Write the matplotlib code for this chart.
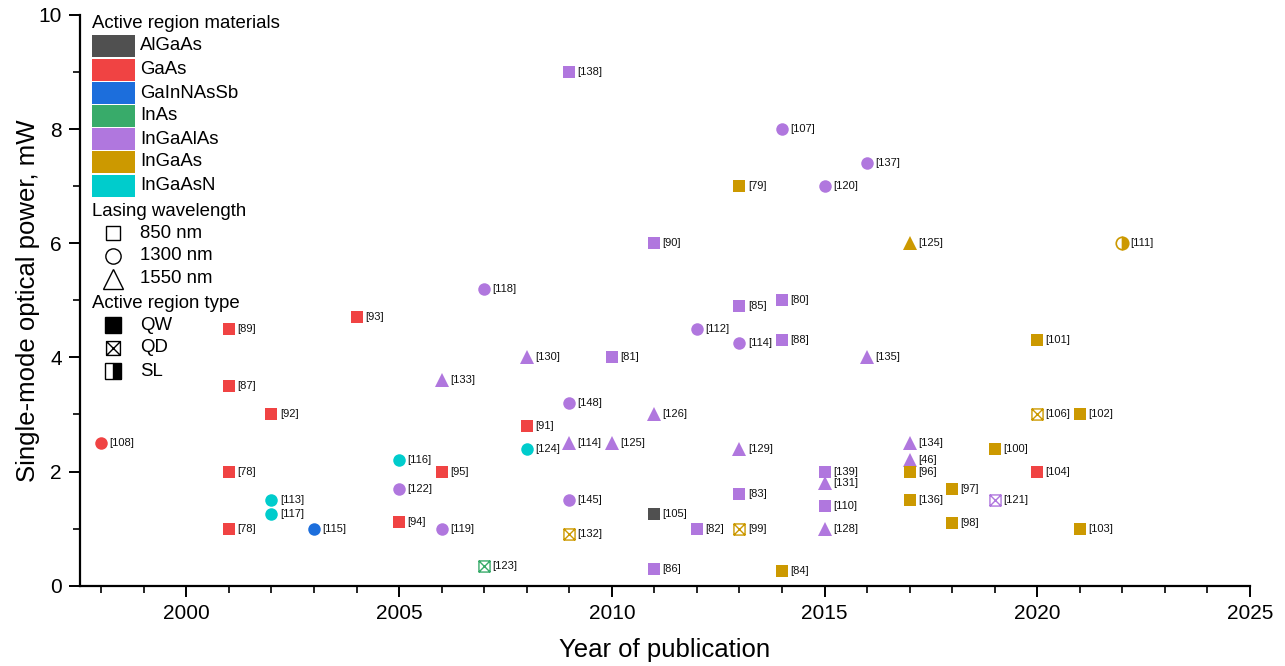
import matplotlib
matplotlib.use("Agg")
import matplotlib.pyplot as plt
from matplotlib.path import Path
from matplotlib.patches import Rectangle
from matplotlib.lines import Line2D
from matplotlib.ticker import MultipleLocator

plt.rcParams['font.family'] = ['Liberation Sans', 'DejaVu Sans']

# -----------------------------------
# Data: one entry per published device
# -----------------------------------

years = [1998, 2001, 2001, 2001, 2001, 2002, 2002, 2002, 2003, 2004,
         2005, 2005, 2005, 2006, 2006, 2006, 2007, 2007, 2008, 2008,
         2008, 2009, 2009, 2009, 2009, 2009, 2010, 2010, 2011, 2011,
         2011, 2011, 2012, 2012, 2013, 2013, 2013, 2013, 2013, 2013,
         2014, 2014, 2014, 2014, 2015, 2015, 2015, 2015, 2015, 2016,
         2016, 2017, 2017, 2017, 2017, 2017, 2018, 2018, 2019, 2019,
         2020, 2020, 2020, 2021, 2021, 2022]

power = [2.5, 4.5, 3.5, 2.0, 1.0, 3.0, 1.5, 1.25, 1.0, 4.7,
         2.2, 1.7, 1.12, 2.0, 1.0, 3.6, 5.2, 0.35, 4.0, 2.8,
         2.4, 9.0, 3.2, 2.5, 1.5, 0.9, 4.0, 2.5, 6.0, 3.0,
         1.25, 0.3, 4.5, 1.0, 7.0, 4.9, 4.25, 2.4, 1.6, 1.0,
         8.0, 5.0, 4.3, 0.25, 7.0, 2.0, 1.8, 1.4, 1.0, 7.4,
         4.0, 6.0, 2.5, 2.2, 2.0, 1.5, 1.7, 1.1, 2.4, 1.5,
         4.3, 3.0, 2.0, 3.0, 1.0, 6.0]

material = ['GaAs', 'GaAs', 'GaAs', 'GaAs', 'GaAs', 'GaAs', 'InGaAsN', 'InGaAsN', 'GaInNAsSb', 'GaAs',
            'InGaAsN', 'InGaAlAs', 'GaAs', 'GaAs', 'InGaAlAs', 'InGaAlAs', 'InGaAlAs', 'InAs', 'InGaAlAs', 'GaAs',
            'InGaAsN', 'InGaAlAs', 'InGaAlAs', 'InGaAlAs', 'InGaAlAs', 'InGaAs', 'InGaAlAs', 'InGaAlAs', 'InGaAlAs', 'InGaAlAs',
            'AlGaAs', 'InGaAlAs', 'InGaAlAs', 'InGaAlAs', 'InGaAs', 'InGaAlAs', 'InGaAlAs', 'InGaAlAs', 'InGaAlAs', 'InGaAs',
            'InGaAlAs', 'InGaAlAs', 'InGaAlAs', 'InGaAs', 'InGaAlAs', 'InGaAlAs', 'InGaAlAs', 'InGaAlAs', 'InGaAlAs', 'InGaAlAs',
            'InGaAlAs', 'InGaAs', 'InGaAlAs', 'InGaAlAs', 'InGaAs', 'InGaAs', 'InGaAs', 'InGaAs', 'InGaAs', 'InGaAlAs',
            'InGaAs', 'InGaAs', 'GaAs', 'InGaAs', 'InGaAs', 'InGaAs']

wavelength = [1300, 850, 850, 850, 850, 850, 1300, 1300, 1300, 850,
              1300, 1300, 850, 850, 1300, 1550, 1300, 850, 1550, 850,
              1300, 850, 1300, 1550, 1300, 850, 850, 1550, 850, 1550,
              850, 850, 1300, 850, 850, 850, 1300, 1550, 850, 850,
              1300, 850, 850, 850, 1300, 850, 1550, 850, 1550, 1300,
              1550, 1550, 1550, 1550, 850, 850, 850, 850, 850, 850,
              850, 850, 850, 850, 850, 1300]

region = ['QW'] * 66
for i in [17, 25, 39, 59, 61]:
    region[i] = 'QD'
region[65] = 'SL'

refs = ['108', '89', '87', '78', '78', '92', '113', '117', '115', '93',
        '116', '122', '94', '95', '119', '133', '118', '123', '130', '91',
        '124', '138', '148', '114', '145', '132', '81', '125', '90', '126',
        '105', '86', '112', '82', '79', '85', '114', '129', '83', '99',
        '107', '80', '88', '84', '120', '139', '131', '110', '128', '137',
        '135', '125', '134', '46', '96', '136', '97', '98', '100', '121',
        '101', '106', '104', '102', '103', '111']

materials = ['AlGaAs', 'GaAs', 'GaInNAsSb', 'InAs', 'InGaAlAs', 'InGaAs', 'InGaAsN']
colors = {'AlGaAs': '#505050', 'GaAs': '#f04343', 'GaInNAsSb': '#1c6edc',
          'InAs': '#38ab6a', 'InGaAlAs': '#b077de', 'InGaAs': '#cc9900',
          'InGaAsN': '#00cccc'}
shapes = {850: 's', 1300: 'o', 1550: '^'}
sizes = {850: 8, 1300: 9, 1550: 10}

# square with a cross for quantum dots
qd_marker = Path([(-1, -1), (1, -1), (1, 1), (-1, 1), (-1, -1),
                  (-1, -1), (1, 1), (-1, 1), (1, -1)],
                 [Path.MOVETO, Path.LINETO, Path.LINETO, Path.LINETO, Path.CLOSEPOLY,
                  Path.MOVETO, Path.LINETO, Path.MOVETO, Path.LINETO])

# -----------------------------------
# Plot
# -----------------------------------

fig = plt.figure(figsize=(12.85, 6.66), dpi=100)
ax = fig.add_axes([80 / 1285, 80.3 / 666, 1170 / 1285, 570.7 / 666])

for x, y, m, w, r, ref in zip(years, power, material, wavelength, region, refs):
    c = colors[m]
    if r == 'QD':
        ax.plot(x, y, marker=qd_marker, markersize=8, markerfacecolor='none',
                markeredgecolor=c, markeredgewidth=1.0, linestyle='none')
    elif r == 'SL':
        ax.plot(x, y, marker=shapes[w], markersize=sizes[w], fillstyle='right',
                markerfacecolor=c, markerfacecoloralt='white',
                markeredgecolor=c, markeredgewidth=1.2, linestyle='none')
    else:
        ax.plot(x, y, marker=shapes[w], markersize=sizes[w], color=c,
                markeredgewidth=0, linestyle='none')
    ax.annotate('[' + ref + ']', (x, y), xytext=(6, 0), textcoords='offset points',
                fontsize=8, va='center', ha='left', color='#111111')

ax.set_xlim(1997.5, 2025)
ax.set_ylim(0, 10)
ax.xaxis.set_major_locator(MultipleLocator(5))
ax.xaxis.set_minor_locator(MultipleLocator(1))
ax.yaxis.set_major_locator(MultipleLocator(2))
ax.yaxis.set_minor_locator(MultipleLocator(1))
ax.tick_params(which='major', direction='out', length=8, width=1.4, labelsize=15, pad=5)
ax.tick_params(which='minor', direction='out', length=5, width=1.2)
ax.spines['top'].set_visible(False)
ax.spines['right'].set_visible(False)
for s in ['left', 'bottom']:
    ax.spines[s].set_linewidth(1.6)

ax.set_xlabel('Year of publication', fontsize=18.5, labelpad=11)
ax.set_ylabel('Single-mode optical power, mW', fontsize=18.5, labelpad=-1)

# -----------------------------------
# Legend (drawn in figure pixels)
# -----------------------------------

def fpos(px, py):
    return px / 1285, 1 - py / 666

def fig_text(px, py, s):
    fig.text(*fpos(px, py), s, fontsize=13.4, va='center', ha='left')

fig_text(92, 23, 'Active region materials')
row_y = [46, 70, 93, 116, 139, 162, 186]
for m, py in zip(materials, row_y):
    x0, y0 = fpos(92, py + 11)
    fig.add_artist(Rectangle((x0, y0), 43 / 1285, 22 / 666, transform=fig.transFigure,
                             facecolor=colors[m], edgecolor='none'))
    fig_text(140, py, m)

fig_text(92, 211, 'Lasing wavelength')
for w, py, ms in zip([850, 1300, 1550], [233, 256, 279], [10, 11, 14]):
    fig.add_artist(Line2D([fpos(113, py)[0]], [fpos(113, py)[1]], transform=fig.transFigure,
                          marker=shapes[w], markersize=ms, markerfacecolor='white',
                          markeredgecolor='black', markeredgewidth=1.0, linestyle='none'))
    fig_text(140, py, str(w) + ' nm')

fig_text(92, 303, 'Active region type')
type_rows = [('QW', 325), ('QD', 348), ('SL', 371)]
for t, py in type_rows:
    fx, fy = fpos(113, py)
    if t == 'QW':
        h = Line2D([fx], [fy], marker='s', markersize=11, color='black', linestyle='none')
    elif t == 'QD':
        h = Line2D([fx], [fy], marker=qd_marker, markersize=10, markerfacecolor='none',
                   markeredgecolor='black', markeredgewidth=1.0, linestyle='none')
    else:
        h = Line2D([fx], [fy], marker='s', markersize=11, fillstyle='right',
                   markerfacecolor='black', markerfacecoloralt='white',
                   markeredgecolor='black', markeredgewidth=1.0, linestyle='none')
    h.set_transform(fig.transFigure)
    fig.add_artist(h)
    fig_text(140, py, t)

fig.savefig('out.png', dpi=100)
